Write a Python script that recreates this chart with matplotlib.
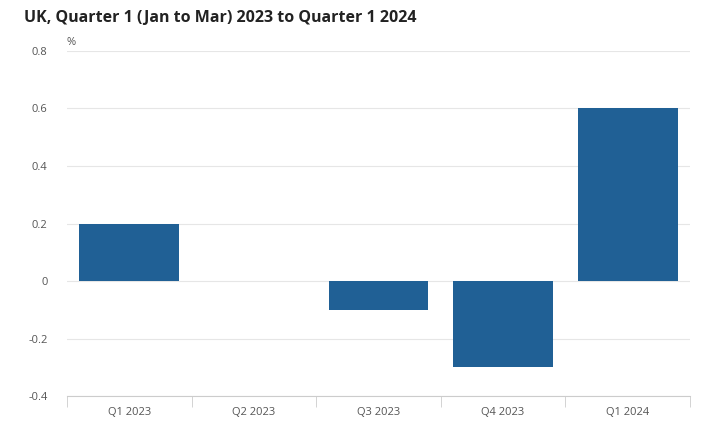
import matplotlib
matplotlib.use("Agg")
import matplotlib.pyplot as plt
import numpy as np

categories = ["Q1 2023", "Q2 2023", "Q3 2023", "Q4 2023", "Q1 2024"]
values = [0.2, 0.0, -0.1, -0.3, 0.6]
yticks = [-0.4, -0.2, 0, 0.2, 0.4, 0.6, 0.8]
ytick_labels = ["-0.4", "-0.2", "0", "0.2", "0.4", "0.6", "0.8"]

plt.rcParams["font.family"] = "Open Sans"
fig = plt.figure(figsize=(7.03, 4.37), dpi=100)
ax = fig.add_axes([0.0953, 0.0938, 0.8862, 0.7895])
x = np.arange(len(categories))
ax.bar(x, values, width=0.8, color="#206095", zorder=3)
ax.set_xlim(-0.5, len(categories) - 0.5)
ax.set_ylim(-0.4, 0.8)
ax.set_yticks(yticks)
ax.set_yticklabels(ytick_labels, fontsize=8, color="#555555")
ax.grid(axis="y", color="#e6e6e6", linewidth=0.8, zorder=0)
ax.tick_params(axis="y", length=0, pad=14)
ax.set_xticks(x)
ax.set_xticklabels(categories, fontsize=8, color="#555555")
ax.tick_params(axis="x", which="major", length=0, pad=8)
ax.set_xticks(np.arange(-0.5, len(categories)), minor=True)
ax.tick_params(axis="x", which="minor", length=8, color="#cccccc")
for s in ["top", "right", "left"]:
    ax.spines[s].set_visible(False)
ax.spines["bottom"].set_color("#cccccc")
ax.text(0.0, 1.01, "%", transform=ax.transAxes, fontsize=8, color="#555555", va="bottom")
fig.text(0.034, 0.958, "UK, Quarter 1 (Jan to Mar) 2023 to Quarter 1 2024",
         fontsize=11.5, fontweight="bold", color="#222222", va="center")
fig.savefig("out.png", dpi=100)
